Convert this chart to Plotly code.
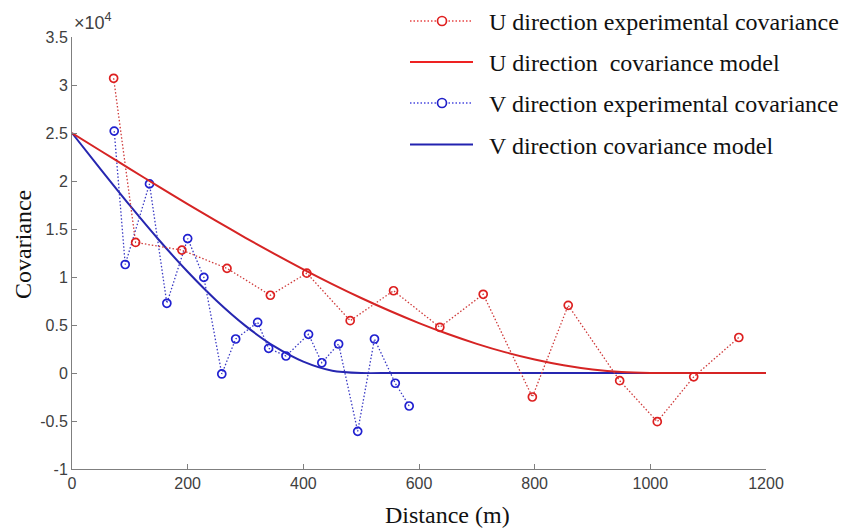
import plotly.graph_objects as go

# ---------------- data ----------------
u_exp_x = [72, 110, 190, 268, 343, 406, 481, 556, 636, 711, 796, 858, 947, 1012, 1075, 1153]
u_exp_y = [30700, 13600, 12800, 10900, 8100, 10400, 5450, 8570, 4760, 8200, -2500, 7050, -800, -5070, -400, 3700]

v_exp_x = [73, 92, 134, 164, 200, 228, 259, 283, 321, 340, 370, 409, 432, 461, 494, 523, 559, 583]
v_exp_y = [25200, 11300, 19700, 7260, 14000, 9960, -100, 3540, 5280, 2570, 1770, 4030, 1070, 3020, -6080, 3540, -1070, -3440]

model_x = [0, 50, 100, 150, 200, 250, 300, 350, 400, 450, 500, 550, 600, 650, 700,
           750, 800, 850, 900, 950, 1000, 1050, 1100, 1150, 1200]
u_model_y = [25000, 23127, 21263, 19417, 17600, 15820, 14088, 12411, 10800, 9264, 7813, 6455,
             5200, 4058, 3038, 2148, 1400, 802, 363, 92, 0, 0, 0, 0, 0]
v_model_y = [25000, 21187, 17453, 13879, 10544, 7528, 4910, 2770, 1188, 243, 0, 0,
             0, 0, 0, 0, 0, 0, 0, 0, 0, 0, 0, 0, 0]

x_ticks = [0, 200, 400, 600, 800, 1000, 1200]
y_tick_vals = [-10000, -5000, 0, 5000, 10000, 15000, 20000, 25000, 30000, 35000]
y_tick_text = ["-1", "-0.5", "0", "0.5", "1", "1.5", "2", "2.5", "3", "3.5"]

legend_names = ["U direction experimental covariance",
                "U direction  covariance model",
                "V direction experimental covariance",
                "V direction covariance model"]

# ---------------- styles ----------------
RED_M = "#d62424"
BLUE_M = "#2626b0"
RED_D = "#cf3a3a"
BLUE_D = "#3a3ac4"
RED_PT = "#dd2020"
BLUE_PT = "#2020d0"
AXIS_C = "#7f7f7f"
TICK_FONT = dict(family="Liberation Sans, Arial, sans-serif", size=16, color="#404040")
SERIF = "Liberation Serif, Times New Roman, serif"

fig = go.Figure()

fig.add_trace(go.Scatter(x=model_x, y=v_model_y, mode="lines", name=legend_names[3],
                         line=dict(color=BLUE_M, width=2, shape="spline", smoothing=0.8),
                         showlegend=False))
fig.add_trace(go.Scatter(x=v_exp_x, y=v_exp_y, mode="lines+markers", name=legend_names[2],
                         line=dict(color=BLUE_D, width=1.3, dash="1.5px,2px"),
                         marker=dict(symbol="circle-open", size=8, color=BLUE_PT,
                                     line=dict(width=1.7, color=BLUE_PT)),
                         showlegend=False))
fig.add_trace(go.Scatter(x=model_x, y=u_model_y, mode="lines", name=legend_names[1],
                         line=dict(color=RED_M, width=2, shape="spline", smoothing=0.8),
                         showlegend=False))
fig.add_trace(go.Scatter(x=u_exp_x, y=u_exp_y, mode="lines+markers", name=legend_names[0],
                         line=dict(color=RED_D, width=1.3, dash="1.5px,2px"),
                         marker=dict(symbol="circle-open", size=8, color=RED_PT,
                                     line=dict(width=1.7, color=RED_PT)),
                         showlegend=False))

# ---------------- layout ----------------
L, R, T, B = 72, 80, 37, 60
W, H = 846, 529
PW, PH = W - L - R, H - T - B


def px_x(px):
    return (px - L) / PW


def px_y(py):
    return (H - B - py) / PH


shapes = []
annotations = []

# manual legend (to match the long line samples of the original)
rows = [21, 62, 103, 144.5]
leg_styles = [
    dict(color="#e84444", dash="dot", marker="#e02020"),
    dict(color="#ee2222", dash="solid", marker=None),
    dict(color="#4848e0", dash="dot", marker="#2020c8"),
    dict(color="#2222b0", dash="solid", marker=None),
]
for name, ry, st in zip(legend_names, rows, leg_styles):
    shapes.append(dict(type="line", xref="paper", yref="paper",
                       x0=px_x(410), x1=px_x(473), y0=px_y(ry), y1=px_y(ry),
                       line=dict(color=st["color"], width=1.3 if st["dash"] == "dot" else 2,
                                 dash="1.5px,2px" if st["dash"] == "dot" else "solid")))
    if st["marker"]:
        shapes.append(dict(type="circle", xref="paper", yref="paper",
                           xsizemode="pixel", ysizemode="pixel",
                           xanchor=px_x(442), yanchor=px_y(ry),
                           x0=-4.5, x1=4.5, y0=-4.5, y1=4.5,
                           fillcolor="white", line=dict(color=st["marker"], width=1.7)))
    annotations.append(dict(text=name, xref="paper", yref="paper",
                            x=px_x(487), y=px_y(ry + 1), xanchor="left", yanchor="middle",
                            showarrow=False,
                            font=dict(family=SERIF, size=24, color="#111111")))

# exponent label
annotations.append(dict(text="×10<sup>4</sup>", xref="paper", yref="paper",
                        x=px_x(72), y=px_y(35), xanchor="left", yanchor="bottom",
                        showarrow=False, font=dict(family="Liberation Sans, Arial, sans-serif",
                                                   size=18, color="#404040")))
# axis titles
annotations.append(dict(text="Covariance", xref="paper", yref="paper",
                        x=px_x(23), y=px_y(245), xanchor="center", yanchor="middle",
                        textangle=-90, showarrow=False,
                        font=dict(family=SERIF, size=24, color="#111111")))
annotations.append(dict(text="Distance (m)", xref="paper", yref="paper",
                        x=px_x(448), y=px_y(515), xanchor="center", yanchor="middle",
                        showarrow=False,
                        font=dict(family=SERIF, size=24, color="#111111")))

fig.update_layout(
    width=W, height=H,
    margin=dict(l=L, r=R, t=T, b=B),
    paper_bgcolor="white", plot_bgcolor="white",
    showlegend=False,
    shapes=shapes, annotations=annotations,
    xaxis=dict(range=[0, 1200], tickvals=x_ticks, ticks="inside", ticklen=5,
               tickcolor=AXIS_C, showline=True, linecolor=AXIS_C, linewidth=1,
               showgrid=False, zeroline=False, tickfont=TICK_FONT),
    yaxis=dict(range=[-10000, 35000], tickvals=y_tick_vals, ticktext=y_tick_text,
               ticks="inside", ticklen=5, tickcolor=AXIS_C, showline=True,
               linecolor=AXIS_C, linewidth=1, showgrid=False, zeroline=False,
               tickfont=TICK_FONT),
)

fig.write_html("out.html")
